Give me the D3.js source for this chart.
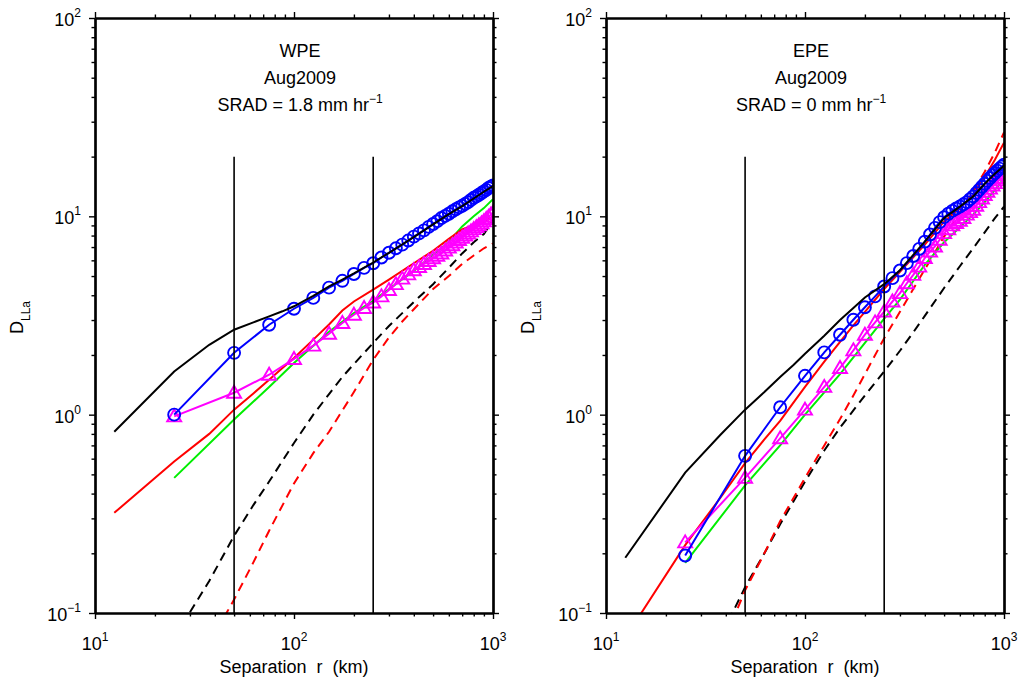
<!DOCTYPE html>
<html>
<head>
<meta charset="utf-8">
<script src="https://cdn.jsdelivr.net/npm/d3@7"></script>
<style>
  body { margin: 0; background: #fff; }
  text { font-family: "Liberation Sans", Arial, Helvetica, sans-serif; fill: #000; }
</style>
</head>
<body>
<svg id="chart" width="1022" height="682"></svg>
<script>
// separations (km)
const sepMarked = [25, 50, 75, 100, 125, 150, 175, 200, 225, 250, 275, 300, 325, 350, 375, 400,
  425, 450, 475, 500, 525, 550, 575, 600, 625, 650, 675, 700, 725, 750, 775, 800, 825, 850,
  875, 900, 925, 950, 975, 1000];
const sepFine = [12.5, 25, 37.5, 50, 62.5, 75, 87.5, 100, 125, 150, 175, 200, 250, 300, 400,
  500, 600, 700, 800, 900, 1000];
const sepGreen = [25, 50, 75, 100, 150, 200, 250, 300, 400, 500, 600, 700, 800, 900, 1000];
const sepDash = [25, 37.5, 50, 62.5, 75, 100, 125, 150, 175, 200, 250, 300, 350, 400, 500, 600,
  700, 800, 900, 1000];
const markLines = [50, 250];   // vertical reference separations
const markTop = 20;

// WPE, Aug2009
const wpeCircles = [1.0, 2.05, 2.84, 3.42, 3.88, 4.37, 4.73, 5.12, 5.5, 5.8, 6.2, 6.55, 6.9, 7.2,
  7.55, 7.9, 8.2, 8.5, 8.85, 9.15, 9.45, 9.8, 10.05, 10.3, 10.6, 10.85, 11.1, 11.3, 11.55, 11.8,
  12.1, 12.4, 12.6, 12.85, 13.1, 13.35, 13.6, 13.9, 14.1, 14.3];
const wpeTriangles = [0.98, 1.29, 1.59, 1.91, 2.23, 2.56, 2.9, 3.19, 3.45, 3.68, 3.95, 4.25, 4.55,
  4.85, 5.1, 5.35, 5.55, 5.75, 5.95, 6.15, 6.32, 6.5, 6.72, 6.95, 7.15, 7.38, 7.6, 7.8, 8.0, 8.2,
  8.4, 8.62, 8.82, 9.02, 9.22, 9.45, 9.7, 9.95, 10.2, 10.45];
const wpeBlack = [0.82, 1.65, 2.25, 2.68, 2.92, 3.13, 3.32, 3.52, 3.97, 4.43, 4.8, 5.15, 5.85,
  6.55, 7.85, 9.1, 10.25, 11.25, 12.3, 13.3, 14.2];
const wpeRed = [0.32, 0.58, 0.8, 1.06, 1.28, 1.5, 1.72, 1.93, 2.39, 2.85, 3.35, 3.72, 4.27, 4.8,
  5.8, 6.7, 7.7, 8.6, 9.05, 9.3, 10.0];
const wpeGreen = [0.48, 0.945, 1.38, 1.82, 2.62, 3.25, 3.75, 4.3, 5.3, 6.4, 7.45, 8.9, 10.0, 11.0, 12.2];
const wpeBlackDash = [0.075, 0.145, 0.245, 0.35, 0.46, 0.72, 1.0, 1.27, 1.55, 1.8, 2.3, 2.8, 3.25,
  3.7, 4.55, 5.5, 6.5, 7.4, 8.15, 9.6];
const wpeRedDash = [0.04, 0.07, 0.117, 0.18, 0.26, 0.45, 0.64, 0.82, 1.05, 1.3, 1.89, 2.45, 2.95,
  3.4, 4.3, 5.0, 5.75, 6.35, 6.9, 7.3];

// EPE, Aug2009
const epeCircles = [0.195, 0.62, 1.09, 1.57, 2.06, 2.53, 3.01, 3.48, 3.95, 4.43, 4.88, 5.33, 5.81,
  6.31, 6.85, 7.45, 8.1, 8.75, 9.35, 9.9, 10.3, 10.65, 10.95, 11.2, 11.5, 11.8, 12.2, 12.6, 13.1,
  13.6, 14.1, 14.6, 15.1, 15.6, 16.1, 16.5, 17.0, 17.4, 17.8, 18.2];
const epeTriangles = [0.227, 0.48, 0.76, 1.06, 1.38, 1.72, 2.11, 2.53, 2.92, 3.31, 3.72, 4.1, 4.6,
  5.07, 5.58, 6.16, 6.65, 7.05, 7.62, 8.23, 8.6, 9.0, 9.25, 9.5, 9.8, 10.2, 10.5, 10.8, 11.3, 11.8,
  12.3, 12.8, 13.3, 13.8, 14.3, 14.7, 15.2, 15.6, 16.1, 16.5];
const epeBlack = [0.19, 0.51, 0.79, 1.06, 1.3, 1.55, 1.78, 2.03, 2.5, 3.0, 3.45, 3.9, 4.55, 5.35,
  7.45, 9.8, 11.2, 12.6, 14.6, 16.4, 18.0];
const epeRed = [0.075, 0.22, 0.38, 0.57, 0.75, 0.93, 1.15, 1.38, 1.85, 2.33, 2.82, 3.3, 4.3, 5.25,
  7.2, 9.4, 11.0, 12.8, 15.8, 19.3, 23.5];
const epeGreen = [0.179, 0.44, 0.7, 1.0, 1.6, 2.3, 3.05, 3.8, 5.7, 7.4, 8.8, 10.2, 11.8, 13.6, 15.5];
const epeBlackDash = [0.03, 0.075, 0.135, 0.2, 0.28, 0.46, 0.66, 0.86, 1.05, 1.25, 1.65, 2.1, 2.6,
  3.15, 4.35, 5.6, 6.9, 8.3, 9.8, 11.2];
const epeRedDash = [0.025, 0.065, 0.13, 0.2, 0.29, 0.48, 0.7, 0.95, 1.25, 1.6, 2.43, 3.3, 4.3, 5.4,
  7.9, 10.5, 13.3, 16.8, 21.0, 26.5];

const panels = [
  { left: 95, name: "WPE", month: "Aug2009", srad: "1.8",
    circles: wpeCircles, triangles: wpeTriangles, black: wpeBlack, red: wpeRed,
    green: wpeGreen, blackDash: wpeBlackDash, redDash: wpeRedDash },
  { left: 606, name: "EPE", month: "Aug2009", srad: "0",
    circles: epeCircles, triangles: epeTriangles, black: epeBlack, red: epeRed,
    green: epeGreen, blackDash: epeBlackDash, redDash: epeRedDash }
];

const plotTop = 18, plotW = 398, plotH = 595;
const lineW = 2;
const svg = d3.select("#chart");

const zip = (xs, ys) => xs.map((v, i) => [v, ys[i]]);

panels.forEach((p, idx) => drawPanel(p, idx));

function drawPanel(p, idx) {
  const g = svg.append("g").attr("transform", `translate(${p.left},${plotTop})`);

  const x = d3.scaleLog().domain([10, 1000]).range([0, plotW]);
  const y = d3.scaleLog().domain([0.1, 100]).range([plotH, 0]);

  const isMajor = v => Math.abs(Math.log10(v) - Math.round(Math.log10(v))) < 1e-6;
  const xMinor = x.ticks().filter(v => !isMajor(v));
  const yMinor = y.ticks().filter(v => !isMajor(v));
  const xMajor = x.ticks().filter(isMajor);
  const yMajor = y.ticks().filter(isMajor);

  const clipId = "clip" + idx;
  g.append("clipPath").attr("id", clipId)
    .append("rect").attr("width", plotW).attr("height", plotH);

  const plot = g.append("g").attr("clip-path", `url(#${clipId})`);

  const line = d3.line().x(d => x(d[0])).y(d => y(d[1]));

  // dashed reference curves
  plot.append("path").datum(zip(sepDash, p.blackDash))
    .attr("d", line).attr("fill", "none").attr("stroke", "#000")
    .attr("stroke-width", lineW).attr("stroke-dasharray", "9,6");
  plot.append("path").datum(zip(sepDash, p.redDash))
    .attr("d", line).attr("fill", "none").attr("stroke", "#ff0000")
    .attr("stroke-width", lineW).attr("stroke-dasharray", "9,6");

  // solid model curves (under the markers)
  plot.append("path").datum(zip(sepGreen, p.green))
    .attr("d", line).attr("fill", "none").attr("stroke", "#00ee00").attr("stroke-width", lineW);
  plot.append("path").datum(zip(sepFine, p.red))
    .attr("d", line).attr("fill", "none").attr("stroke", "#ff0000").attr("stroke-width", lineW);

  // magenta triangles
  plot.append("path").datum(zip(sepMarked, p.triangles))
    .attr("d", line).attr("fill", "none").attr("stroke", "#ff00ff").attr("stroke-width", lineW);
  plot.selectAll("path.tri").data(zip(sepMarked, p.triangles)).enter()
    .append("path").attr("class", "tri")
    .attr("transform", d => `translate(${x(d[0])},${y(d[1])})`)
    .attr("d", "M0,-7L7,5L-7,5Z")
    .attr("fill", "none").attr("stroke", "#ff00ff").attr("stroke-width", 1.9);

  // blue circles
  plot.append("path").datum(zip(sepMarked, p.circles))
    .attr("d", line).attr("fill", "none").attr("stroke", "#0000ff").attr("stroke-width", lineW);
  plot.selectAll("circle.obs").data(zip(sepMarked, p.circles)).enter()
    .append("circle").attr("class", "obs")
    .attr("cx", d => x(d[0])).attr("cy", d => y(d[1])).attr("r", 6)
    .attr("fill", "none").attr("stroke", "#0000ff").attr("stroke-width", 1.9);

  plot.append("path").datum(zip(sepFine, p.black))
    .attr("d", line).attr("fill", "none").attr("stroke", "#000").attr("stroke-width", lineW);

  // vertical markers at 50 and 250 km
  g.selectAll("line.mark").data(markLines).enter()
    .append("line").attr("class", "mark")
    .attr("x1", d => x(d)).attr("x2", d => x(d))
    .attr("y1", y(markTop)).attr("y2", plotH)
    .attr("stroke", "#000").attr("stroke-width", 1.6);

  // axes: minor + major ticks on all four sides
  const axes = [
    { gen: d3.axisBottom, scale: x, tr: `translate(0,${plotH})`, minor: xMinor, major: xMajor },
    { gen: d3.axisTop, scale: x, tr: "translate(0,0)", minor: xMinor, major: xMajor },
    { gen: d3.axisLeft, scale: y, tr: "translate(0,0)", minor: yMinor, major: yMajor },
    { gen: d3.axisRight, scale: y, tr: `translate(${plotW},0)`, minor: yMinor, major: yMajor }
  ];
  axes.forEach(a => {
    const minorG = g.append("g").attr("transform", a.tr)
      .call(a.gen(a.scale).tickValues(a.minor).tickSize(3.5).tickSizeOuter(0).tickFormat(""));
    const majorG = g.append("g").attr("transform", a.tr)
      .call(a.gen(a.scale).tickValues(a.major).tickSize(6).tickSizeOuter(0).tickFormat(""));
    [minorG, majorG].forEach(s => {
      s.select(".domain").attr("stroke", "#000").attr("stroke-width", 2.2);
      s.selectAll(".tick line").attr("stroke", "#000").attr("stroke-width", 1.4);
    });
  });

  // tick labels as 10 with superscript exponent
  const xLab = g.append("g").selectAll("text").data(xMajor).enter().append("text")
    .attr("x", d => x(d)).attr("y", plotH + 37)
    .attr("text-anchor", "middle").attr("font-size", 18);
  xLab.append("tspan").text("10");
  xLab.append("tspan").attr("font-size", 12).attr("dy", -9).text(d => Math.round(Math.log10(d)));

  const yLab = g.append("g").selectAll("text").data(yMajor).enter().append("text")
    .attr("x", -14).attr("y", d => y(d) + 8)
    .attr("text-anchor", "end").attr("font-size", 18);
  yLab.append("tspan").text("10");
  yLab.append("tspan").attr("font-size", 12).attr("dy", -9)
    .text(d => { const e = Math.round(Math.log10(d)); return e < 0 ? "\u2212" + (-e) : e; });

  // axis titles
  g.append("text")
    .attr("x", plotW / 2).attr("y", plotH + 60)
    .attr("text-anchor", "middle").attr("font-size", 18)
    .attr("xml:space", "preserve").style("white-space", "pre")
    .text("Separation  r  (km)");

  const yt = g.append("text")
    .attr("transform", `translate(-72,${plotH / 2 + 2}) rotate(-90)`)
    .attr("text-anchor", "middle").attr("font-size", 18);
  yt.append("tspan").text("D");
  yt.append("tspan").attr("font-size", 12).attr("dy", 7).text("LLa");

  // panel title
  const cx = plotW / 2 + 6;
  g.append("text").attr("x", cx).attr("y", 39).attr("text-anchor", "middle")
    .attr("font-size", 18).text(p.name);
  g.append("text").attr("x", cx).attr("y", 66).attr("text-anchor", "middle")
    .attr("font-size", 18).text(p.month);
  const s = g.append("text").attr("x", cx).attr("y", 93).attr("text-anchor", "middle")
    .attr("font-size", 18).attr("xml:space", "preserve");
  s.append("tspan").text(`SRAD = ${p.srad} mm hr`);
  s.append("tspan").attr("font-size", 12).attr("dy", -8).text("\u22121");
}
</script>
</body>
</html>
